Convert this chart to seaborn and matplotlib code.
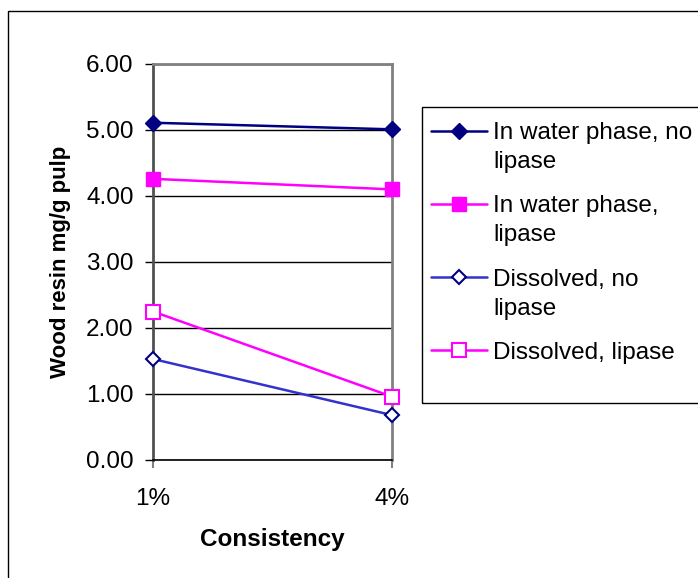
import matplotlib
matplotlib.use("Agg")
import matplotlib.pyplot as plt
from matplotlib.patches import Rectangle
import seaborn as sns
import pandas as pd

# Data
consistency = ["1%", "4%"]
water_no_lipase = [5.11, 5.01]
water_lipase = [4.26, 4.10]
dissolved_no_lipase = [1.53, 0.68]
dissolved_lipase = [2.25, 0.96]
y_ticks = [0.0, 1.0, 2.0, 3.0, 4.0, 5.0, 6.0]

series = [
    ("In water phase, no", "lipase", water_no_lipase,
     dict(color="#000080", marker="D", markersize=8.5, markerfacecolor="#000080",
          markeredgecolor="#000080", markeredgewidth=1)),
    ("In water phase,", "lipase", water_lipase,
     dict(color="#FF00FF", marker="s", markersize=10.5, markerfacecolor="#FF00FF",
          markeredgecolor="#FF00FF", markeredgewidth=1)),
    ("Dissolved, no", "lipase", dissolved_no_lipase,
     dict(color="#3333CC", marker="D", markersize=7, markerfacecolor="white",
          markeredgecolor="#000080", markeredgewidth=1.5)),
    ("Dissolved, lipase", None, dissolved_lipase,
     dict(color="#FF00FF", marker="s", markersize=9.5, markerfacecolor="white",
          markeredgecolor="#FF00FF", markeredgewidth=1.5)),
]

sns.set_theme(style="white")
plt.rcParams["font.family"] = ["Liberation Sans", "DejaVu Sans"]

FS = 17.5
W, H = 698, 578
fig = plt.figure(figsize=(W / 100, H / 100), dpi=100)
ax = fig.add_axes([153 / W, 1 - 460 / H, (392 - 153) / W, (460 - 64) / H])

for first, second, vals, style in series:
    df = pd.DataFrame({"Consistency": consistency, "Value": vals})
    sns.lineplot(data=df, x="Consistency", y="Value", ax=ax, label=first,
                 linewidth=1.8, sort=False, clip_on=False, zorder=4, **style)

ax.set_xlim(0, 1)
ax.set_ylim(0, 6)
ax.set_yticks(y_ticks)
ax.set_yticklabels([f"{v:.2f}" for v in y_ticks])
ax.set_xticks([0, 1])
ax.set_xticklabels(consistency)

ax.yaxis.grid(True, color="black", linewidth=1)
ax.set_axisbelow(True)
ax.tick_params(axis="y", which="both", left=True, length=6, width=1, color="black",
               pad=8, labelsize=FS, labelcolor="black")
ax.tick_params(axis="x", which="both", bottom=True, length=6, width=1.5, color="#808080",
               pad=14, labelsize=FS, labelcolor="black")

for side in ["top", "right", "left"]:
    ax.spines[side].set_visible(True)
    ax.spines[side].set_color("#808080")
    ax.spines[side].set_linewidth(2)
ax.spines["left"].set_color("#505050")
ax.spines["bottom"].set_color("black")
ax.spines["bottom"].set_linewidth(1.2)

ax.set_xlabel("Consistency", fontsize=FS, fontweight="bold", labelpad=13, color="black")
ax.set_ylabel("Wood resin mg/g pulp", fontsize=16, fontweight="bold", labelpad=10.5, color="black")

# Legend: first lines as labels, continuation lines attached beneath them
leg = ax.legend(loc="upper left", bbox_to_anchor=(431 / W, 1 - 122 / H),
                bbox_transform=fig.transFigure, frameon=False, fontsize=FS,
                handlelength=2.3, handletextpad=0.25, labelspacing=2.11,
                borderpad=0, borderaxespad=0, labelcolor="black")
for txt, (_, second, _, _) in zip(leg.get_texts(), series):
    if second:
        ax.annotate(second, xy=(0, 0), xycoords=txt, xytext=(0, -29),
                    textcoords="offset pixels", fontsize=FS, color="black",
                    ha="left", va="bottom", annotation_clip=False, zorder=8)

fig.add_artist(Rectangle((422 / W, 1 - 403 / H), 0.6, (403 - 107) / H,
                         transform=fig.transFigure, fill=False, edgecolor="black",
                         linewidth=1, clip_on=False))
fig.add_artist(Rectangle((8 / W, -0.1), 1.2, 1.1 - 11 / H,
                         transform=fig.transFigure, fill=False, edgecolor="black",
                         linewidth=1, clip_on=False))

fig.canvas.draw()
fig.savefig("out.png", dpi=100)
